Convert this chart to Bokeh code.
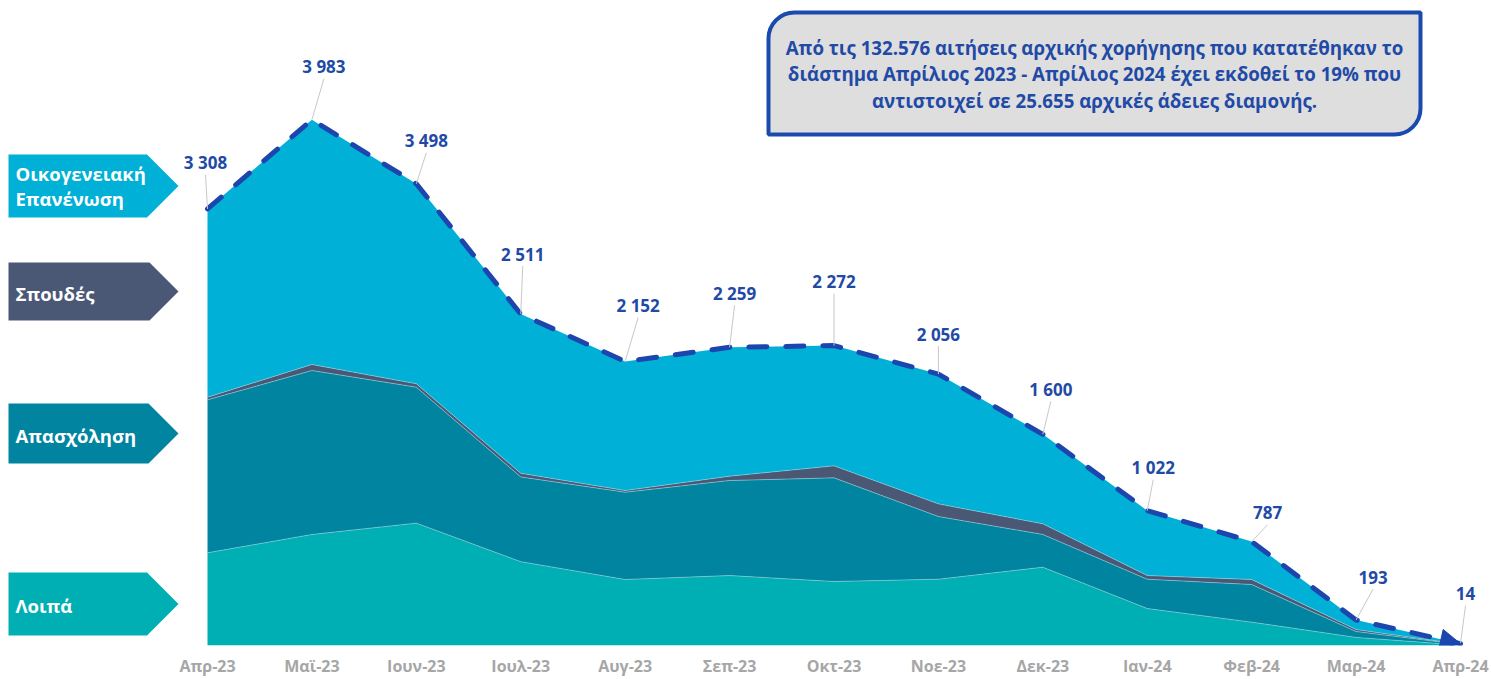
from bokeh.plotting import figure
from bokeh.models import Range1d, FixedTicker, ColumnDataSource, Arrow, NormalHead, BoxAnnotation, Label
from bokeh.core.properties import value
from bokeh.embed import file_html
from bokeh.resources import INLINE

# ---------------- data ----------------
months = ["Απρ-23", "Μαϊ-23", "Ιουν-23", "Ιουλ-23", "Αυγ-23", "Σεπ-23", "Οκτ-23",
          "Νοε-23", "Δεκ-23", "Ιαν-24", "Φεβ-24", "Μαρ-24", "Απρ-24"]
loipa = [702, 841, 927, 635, 500, 530, 485, 502, 593, 280, 177, 61, 3]
apasxolisi = [1159, 1242, 1030, 642, 661, 720, 785, 475, 248, 222, 285, 45, 5]
spoudes = [20, 46, 26, 28, 13, 33, 91, 96, 81, 28, 38, 15, 2]
oikogeneiaki = [1427, 1854, 1515, 1206, 978, 976, 911, 983, 678, 492, 287, 72, 4]

series_names = ["Λοιπά", "Απασχόληση", "Σπουδές", "Οικογενειακή Επανένωση"]
box_lines = ["Από τις 132.576 αιτήσεις αρχικής χορήγησης που κατατέθηκαν το",
             "διάστημα Απρίλιος 2023 - Απρίλιος 2024 έχει εκδοθεί το 19% που",
             "αντιστοιχεί σε 25.655 αρχικές άδειες διαμονής."]

# ---------------- layout / styles ----------------
C_LOIPA = "#00AFB3"
C_APAS = "#00849F"
C_SPOUD = "#4A5876"
C_OIKOG = "#00B0D6"
C_LINE = "#1C45AE"
C_LABEL = "#1F4AA6"
FONT = "Open Sans"

W, H = 1491, 679
PX0, PX_END = 207.0, 1460.0          # page x of first / last month
PXM = (PX_END - PX0) / 12.0           # px per month
PY0 = 645.0                           # page y of zero
KY = 0.132                            # px per unit
BOTTOM = H - int(PY0)


def dxp(px):
    return (px - PX0) / PXM


def dyp(py):
    return (PY0 - py) / KY


x = list(range(len(months)))
totals = [a + b + c + d for a, b, c, d in zip(loipa, apasxolisi, spoudes, oikogeneiaki)]

p = figure(width=W, height=H, output_backend="svg", toolbar_location=None,
           x_range=Range1d(dxp(0), dxp(W)), y_range=Range1d(0, dyp(0)),
           y_axis_location=None, min_border_left=0, min_border_right=0,
           min_border_top=0, min_border_bottom=BOTTOM)
p.grid.visible = False
p.outline_line_color = None
p.background_fill_color = "white"
p.border_fill_color = "white"

ax = p.xaxis[0]
ax.ticker = FixedTicker(ticks=x)
ax.major_label_overrides = {i: m for i, m in enumerate(months)}
ax.axis_line_color = None
ax.major_tick_line_color = None
ax.minor_tick_line_color = None
ax.major_tick_out = 0
ax.major_tick_in = 0
ax.minor_tick_out = 0
ax.major_label_standoff = 9
ax.major_label_text_font = FONT
ax.major_label_text_font_style = "bold"
ax.major_label_text_font_size = "16px"
ax.major_label_text_color = "#A6A6A6"

src = ColumnDataSource(dict(x=x, loipa=loipa, apasxolisi=apasxolisi, spoudes=spoudes,
                            oikogeneiaki=oikogeneiaki, total=totals))
p.varea_stack(stackers=["loipa", "apasxolisi", "spoudes", "oikogeneiaki"], x="x",
              color=[C_LOIPA, C_APAS, C_SPOUD, C_OIKOG], source=src)

# faint boundary lines between layers
cum1 = loipa
cum2 = [a + b for a, b in zip(loipa, apasxolisi)]
cum3 = [a + b + c for a, b, c in zip(loipa, apasxolisi, spoudes)]
for cum in (cum1, cum2, cum3):
    p.line(x, cum, line_color="#9AD6E0", line_width=0.8, line_alpha=0.7)

# dashed total line with arrow head
p.line(x="x", y="total", source=src, line_color=C_LINE, line_width=5,
       line_dash="18 19", line_cap="round")
p.add_layout(Arrow(end=NormalHead(size=20, fill_color=C_LINE, line_color=C_LINE),
                   x_start=x[-2], y_start=totals[-2], x_end=x[-1], y_end=totals[-1],
                   line_alpha=0))

# value labels with leader lines (offsets in px)
lab_dx = [-2, 12, 10, 2, 13, 5, 0, 0, 8, 6, 16, 17, 5]
lab_dy = [-46, -53, -43, -60, -56, -54, -64, -40, -45, -43, -29, -43, -50]
lx = [xi + ddx / PXM for xi, ddx in zip(x, lab_dx)]
ly = [t + (-ddy) / KY for t, ddy in zip(totals, lab_dy)]
ly_end = [t + (-(ddy + 12)) / KY for t, ddy in zip(totals, lab_dy)]
p.segment(x0=x, y0=totals, x1=lx, y1=ly_end, line_color="#C8C8C8", line_width=1)
p.text(x=lx, y=ly, text=[f"{t:,}".replace(",", " ") for t in totals],
       text_font=value(FONT), text_font_style="bold", text_font_size="17px",
       text_color=C_LABEL, text_align="center", text_baseline="middle")

# left chevron legend
chev = [  # (top, bottom) in page px, color, text lines with y
    (154, 217, C_OIKOG, [("Οικογενειακή", 173), ("Επανένωση", 198)]),
    (262, 320, C_SPOUD, [("Σπουδές", 293)]),
    (403, 463, C_APAS, [("Απασχόληση", 435)]),
    (572, 635, C_LOIPA, [("Λοιπά", 605)]),
]
xs, ys, cols, tx, ty, tt = [], [], [], [], [], []
for top, bot, col, lines in chev:
    mid = (top + bot) / 2
    depth = (bot - top) / 2
    tip = 178
    pts = [(8, top), (tip - depth, top), (tip, mid), (tip - depth, bot), (8, bot)]
    xs.append([dxp(a) for a, b in pts])
    ys.append([dyp(b) for a, b in pts])
    cols.append(col)
    for t, yy in lines:
        tx.append(dxp(15))
        ty.append(dyp(yy))
        tt.append(t)
p.patches(xs=xs, ys=ys, fill_color=cols, line_color=None)
p.text(x=tx, y=ty, text=tt, text_font=value(FONT), text_font_style="bold",
       text_font_size="18.5px", text_color="white", text_align="left", text_baseline="middle")

# text box
box = BoxAnnotation(left=dxp(768), right=dxp(1420), top=dyp(12), bottom=dyp(134),
                    fill_color="#DEDEDE", fill_alpha=1, line_color="#1A4AAE", line_alpha=1,
                    line_width=4, border_radius=(26, 0, 26, 0), level="underlay")
p.add_layout(box)
for line, yy in zip(box_lines, [47, 73, 100]):
    p.add_layout(Label(x=dxp(1094), y=dyp(yy), text=line, text_font=FONT,
                       text_font_style="bold", text_font_size="18.7px", text_color=C_LABEL,
                       text_align="center", text_baseline="middle"))

open("out.html", "w").write(file_html(p, INLINE))
